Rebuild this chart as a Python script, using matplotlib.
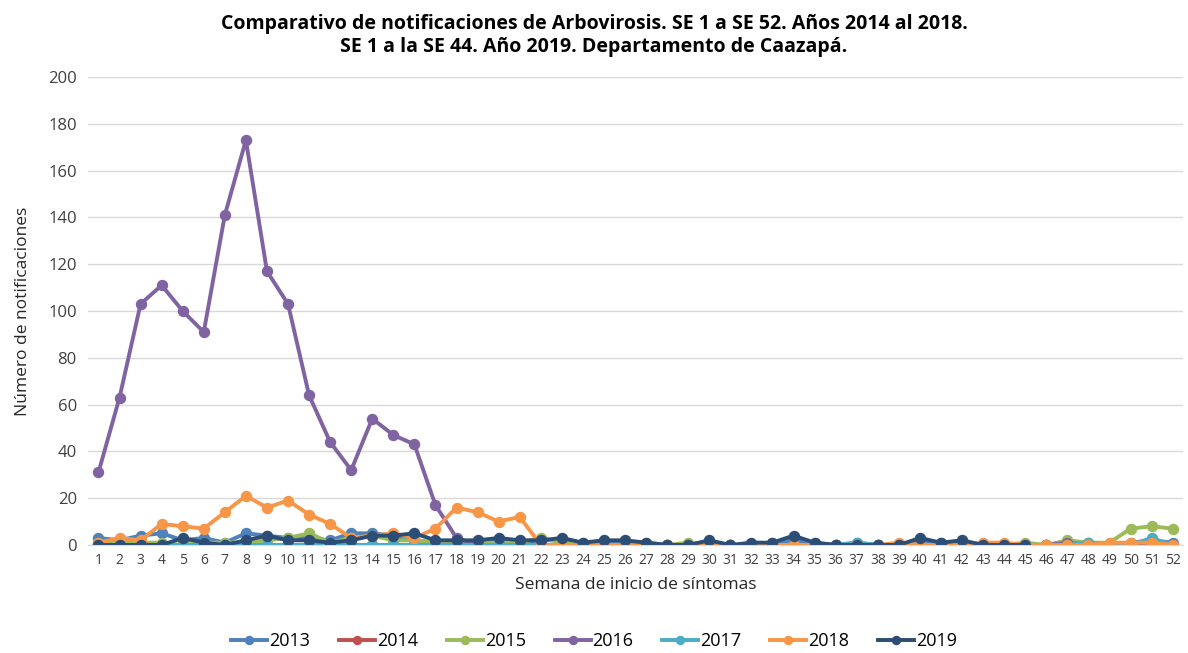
import matplotlib.pyplot as plt
import numpy as np

# === DATA ===
weeks = list(range(1, 53))

s2013 = [3, 2, 4, 5, 2, 3, 1, 5, 4, 3, 3, 2, 5, 5, 4, 2, 1, 1, 1, 2,
         1, 2, 2, 1, 1, 1, 1, 0, 0, 1, 0, 0, 1, 2, 1, 0, 1, 0, 0, 1,
         1, 1, 0, 0, 0, 0, 1, 1, 0, 1, 2, 1]
s2014 = [0] * 52
s2015 = [1, 1, 1, 1, 0, 1, 1, 1, 2, 3, 5, 1, 3, 4, 2, 2, 1, 1, 1, 1,
         1, 3, 1, 0, 0, 0, 0, 0, 1, 0, 0, 0, 0, 0, 0, 0, 0, 0, 0, 0,
         0, 0, 0, 0, 1, 0, 2, 1, 1, 7, 8, 7]
s2016 = [31, 63, 103, 111, 100, 91, 141, 173, 117, 103, 64, 44, 32, 54, 47, 43, 17, 3, 0, 0,
         0, 0, 0, 0, 0, 0, 0, 0, 0, 0, 0, 0, 0, 0, 0, 0, 0, 0, 0, 0,
         0, 0, 0, 0, 0, 0, 1, 0, 0, 0, 0, 0]
s2017 = [0, 0, 0, 0, 0, 0, 0, 0, 0, 0, 0, 0, 0, 0, 0, 0, 0, 0, 0, 0,
         0, 0, 0, 0, 0, 0, 0, 0, 0, 0, 0, 0, 0, 0, 0, 0, 1, 0, 0, 0,
         0, 0, 0, 0, 0, 0, 0, 1, 0, 0, 3, 0]
s2018 = [1, 3, 2, 9, 8, 7, 14, 21, 16, 19, 13, 9, 3, 4, 5, 3, 7, 16, 14, 10,
         12, 0, 0, 0, 0, 0, 0, 0, 0, 0, 0, 0, 0, 0, 0, 0, 0, 0, 1, 0,
         0, 0, 1, 1, 0, 0, 0, 0, 1, 1, 1, 0]
s2019 = [0, 0, 0, 0, 3, 1, 0, 2, 4, 2, 2, 1, 2, 4, 4, 5, 2, 2, 2, 3,
         2, 2, 3, 1, 2, 2, 1, 0, 0, 2, 0, 1, 1, 4, 1, 0, 0, 0, 0, 3,
         1, 2, 0, 0, 0]

series = [
    ('2013', s2013, '#4f81bd'),
    ('2014', s2014, '#c0504d'),
    ('2015', s2015, '#9bbb59'),
    ('2016', s2016, '#8064a2'),
    ('2017', s2017, '#4bacc6'),
    ('2018', s2018, '#f79646'),
    ('2019', s2019, '#2c4d75'),
]

# === FIGURE ===
plt.rcParams['font.family'] = ['Open Sans', 'DejaVu Sans']
fig = plt.figure(figsize=(11.88, 6.53), dpi=100)
ax = fig.add_axes([0.074, 0.1654, 0.922, 0.7166])

for label, vals, color in series:
    ax.plot(weeks[:len(vals)], vals, '-o', color=color, linewidth=2.8,
            markersize=7.2, label=label)

ax.set_xlim(0.5, 52.5)
ax.set_ylim(0, 200)
ax.set_yticks(np.arange(0, 201, 20))
ax.set_xticks(weeks)
ax.tick_params(axis='x', labelsize=10, length=0, pad=6, colors='#404040')
ax.tick_params(axis='y', labelsize=12, length=0, pad=8, colors='#404040')
ax.grid(axis='y', color='#d9d9d9', linewidth=1)
ax.set_axisbelow(True)
for side in ['top', 'right', 'left']:
    ax.spines[side].set_visible(False)
ax.spines['bottom'].set_color('#d9d9d9')

ax.set_xlabel('Semana de inicio de síntomas', fontsize=12.5, color='#262626', labelpad=6)
ax.set_ylabel('Número de notificaciones', fontsize=12.5, color='#262626', labelpad=12)

fig.text(0.5, 0.978, 'Comparativo de notificaciones de Arbovirosis. SE 1 a SE 52. Años 2014 al 2018.\n'
         'SE 1 a la SE 44. Año 2019. Departamento de Caazapá.',
         ha='center', va='top', fontsize=14, fontweight='bold', linespacing=1.2)

leg = ax.legend(loc='lower center', bbox_to_anchor=(0.462, -0.26), ncol=7, frameon=False,
                fontsize=13, handlelength=2.0, columnspacing=1.6, handletextpad=0.1,
                markerscale=0.8)

fig.savefig('out.png', dpi=100, facecolor='white')
